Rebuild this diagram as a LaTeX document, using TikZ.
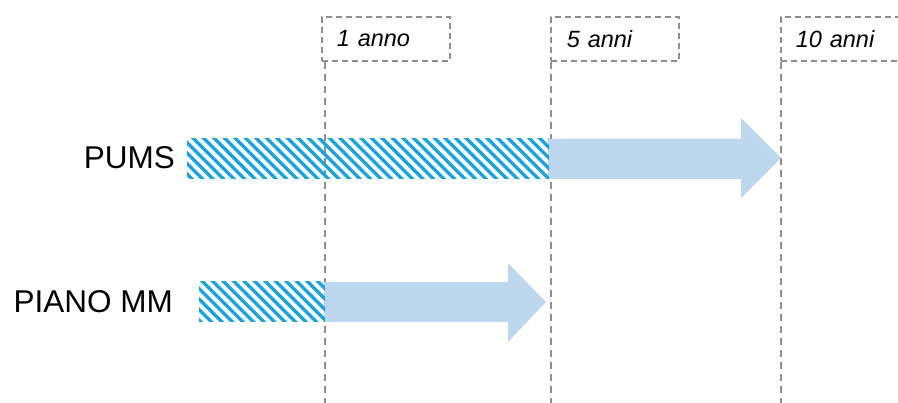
\documentclass[tikz,border=0pt]{standalone}
\usepackage{fontspec}
\setmainfont{Liberation Sans}
\definecolor{hatchblue}{HTML}{1BA3E0}
\definecolor{arrowblue}{HTML}{BDD7EE}
\definecolor{guidegray}{HTML}{8E8E8E}
\tikzset{
  yearbox/.style={draw=guidegray, line width=1.8pt, dash pattern=on 6pt off 4pt,
    anchor=north west, minimum width=128pt, minimum height=44pt,
    inner sep=0pt, text width=120pt, align=left, font=\fontsize{23.5}{27}\selectfont\itshape},
  guide/.style={draw=guidegray, line width=1.8pt, dash pattern=on 7pt off 5pt},
  rowlabel/.style={anchor=east, inner sep=0pt, font=\fontsize{31.5}{36}\selectfont},
  bigarrow/.style={fill=arrowblue, draw=none},
}
\begin{document}
\begin{tikzpicture}[x=1pt, y=-1pt]
\useasboundingbox (0,0) rectangle (898,403);
\clip (0,0) rectangle (898,403);

% year markers
\node[yearbox] (y1)  at (321,16) {\hspace*{11pt}1 anno};
\node[yearbox] (y5)  at (550,16) {\hspace*{12pt}5 anni};
\node[yearbox] (y10) at (780,16) {\hspace*{11pt}10 anni};

% dashed time guides
\draw[guide] (325,62) -- (325,403);
\draw[guide] (551,62) -- (551,403);
\draw[guide] (781,62) -- (781,403);

% row labels
\node[rowlabel] (pums) at (175,158) {PUMS};
\node[rowlabel] (piano) at (173,302) {PIANO MM};

% PUMS: arrow from 5 to 10 years
\fill[bigarrow] (548,139) -- (741,139) -- (741,118) -- (781,158) -- (741,198) -- (741,179) -- (548,179) -- cycle;
% PUMS: hatched span up to 5 years
\begin{scope}
  \clip (187,139) rectangle (549,179);
  \foreach \i in {0,...,40}
    \draw[hatchblue, line width=3.3pt] ({147+\i*10.5},134) -- ({147+\i*10.5+50},184);
\end{scope}

% PIANO MM: arrow from 1 to 5 years
\fill[bigarrow] (324,282) -- (508,282) -- (508,263) -- (546,302) -- (508,342) -- (508,322) -- (324,322) -- cycle;
% PIANO MM: hatched span up to 1 year
\begin{scope}
  \clip (199,282) rectangle (325,322);
  \foreach \i in {0,...,18}
    \draw[hatchblue, line width=3.3pt] ({156+\i*10.5},277) -- ({156+\i*10.5+50},327);
\end{scope}
\end{tikzpicture}
\end{document}
